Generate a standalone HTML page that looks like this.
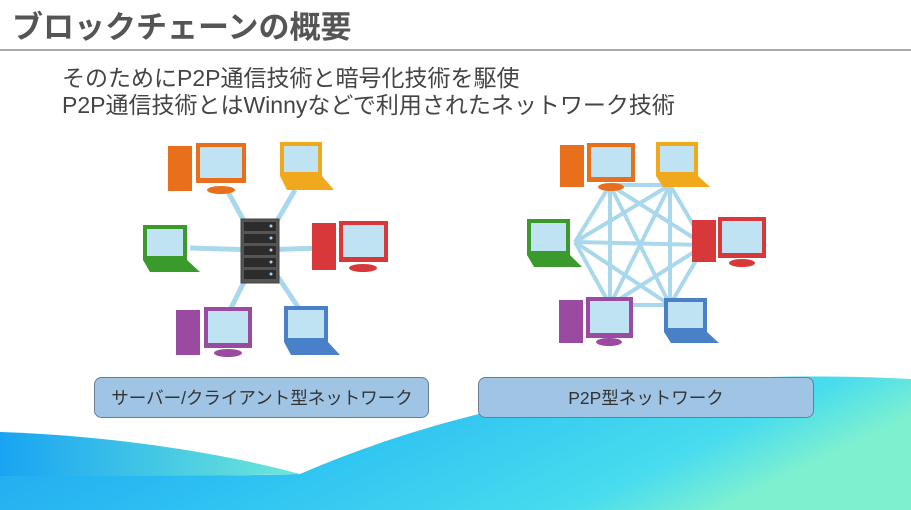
<!DOCTYPE html>
<html><head><meta charset="utf-8"><style>
html,body{margin:0;padding:0;width:911px;height:510px;overflow:hidden;background:#fff;font-family:"Liberation Sans","Noto Sans CJK JP",sans-serif}
</style></head><body>
<svg width="911" height="510" viewBox="0 0 911 510" xmlns="http://www.w3.org/2000/svg" font-family="Liberation Sans, Noto Sans CJK JP, sans-serif">
<defs>
<linearGradient id="w" x1="0" y1="0" x2="1" y2="0.3">
<stop offset="0" stop-color="#1a9ff0"/><stop offset="0.5" stop-color="#30c4f2"/><stop offset="0.85" stop-color="#48dcee"/><stop offset="1" stop-color="#7ef0d0"/></linearGradient>
<linearGradient id="w2" x1="0" y1="0" x2="1" y2="0">
<stop offset="0" stop-color="#18a4f2"/><stop offset="1" stop-color="#6ee8d8"/></linearGradient>
</defs>
<text x="12" y="38" font-size="31" font-weight="bold" fill="#555">ブロックチェーンの概要</text>
<rect x="0" y="49" width="911" height="2" fill="#aaa"/>
<text x="62" y="86" font-size="23" fill="#444">そのためにP2P通信技術と暗号化技術を駆使</text>
<text x="62" y="113" font-size="23" fill="#444">P2P通信技術とはWinnyなどで利用されたネットワーク技術</text>

<path d="M0,432 C120,436 230,455 300,474 L0,480 Z" fill="url(#w2)"/>
<path d="M0,476 C120,476 240,476 300,474 C420,422 540,396 650,384 C760,374 850,376 911,379 L911,510 L0,510 Z" fill="url(#w)"/>

<g stroke="#a9d8ec" stroke-width="5">
<line x1="260" y1="250" x2="228" y2="192"/><line x1="260" y1="250" x2="295" y2="190"/>
<line x1="260" y1="250" x2="190" y2="248"/><line x1="260" y1="250" x2="320" y2="248"/>
<line x1="260" y1="250" x2="230" y2="310"/><line x1="260" y1="250" x2="300" y2="310"/>
</g>
<g stroke="#a9d8ec" stroke-width="4">
<line x1="610" y1="185" x2="670" y2="185"/><line x1="610" y1="185" x2="705" y2="245"/><line x1="610" y1="185" x2="670" y2="305"/><line x1="610" y1="185" x2="610" y2="305"/><line x1="610" y1="185" x2="575" y2="242"/>
<line x1="670" y1="185" x2="705" y2="245"/><line x1="670" y1="185" x2="670" y2="305"/><line x1="670" y1="185" x2="610" y2="305"/><line x1="670" y1="185" x2="575" y2="242"/>
<line x1="705" y1="245" x2="670" y2="305"/><line x1="705" y1="245" x2="610" y2="305"/><line x1="705" y1="245" x2="575" y2="242"/>
<line x1="670" y1="305" x2="610" y2="305"/><line x1="670" y1="305" x2="575" y2="242"/>
<line x1="610" y1="305" x2="575" y2="242"/>
</g>

<rect x="241" y="219" width="38" height="64" fill="#555" stroke="#444"/>
<g fill="#2c2c2c"><rect x="244" y="222" width="32" height="9"/><rect x="244" y="234" width="32" height="9"/><rect x="244" y="246" width="32" height="9"/><rect x="244" y="258" width="32" height="9"/><rect x="244" y="270" width="32" height="9"/></g>
<g fill="#a9d0f0"><circle cx="271" cy="226" r="1.5"/><circle cx="271" cy="238" r="1.5"/><circle cx="271" cy="250" r="1.5"/><circle cx="271" cy="262" r="1.5"/><circle cx="271" cy="274" r="1.5"/></g>

<g>
<rect x="168" y="146" width="24" height="45" fill="#e8701c"/><rect x="196" y="143" width="50" height="40" fill="#e8701c"/><rect x="200" y="147" width="42" height="31" fill="#bfe3f3"/><ellipse cx="221" cy="190" rx="14" ry="4" fill="#e8701c"/>
<rect x="312" y="223" width="24" height="47" fill="#d8383a"/><rect x="339" y="221" width="49" height="41" fill="#d8383a"/><rect x="343" y="225" width="41" height="32" fill="#bfe3f3"/><ellipse cx="363" cy="268" rx="14" ry="4" fill="#d8383a"/>
<rect x="176" y="310" width="24" height="45" fill="#9a4aa0"/><rect x="204" y="307" width="48" height="41" fill="#9a4aa0"/><rect x="208" y="311" width="40" height="32" fill="#bfe3f3"/><ellipse cx="228" cy="353" rx="14" ry="4" fill="#9a4aa0"/>
</g>
<g>
<rect x="280" y="142" width="42" height="34" fill="#f0a81c"/><rect x="284" y="146" width="34" height="26" fill="#bfe3f3"/><polygon points="280,176 322,176 334,190 287,190" fill="#f0a81c"/>
<rect x="143" y="225" width="44" height="35" fill="#3a9a2c"/><rect x="147" y="229" width="36" height="27" fill="#bfe3f3"/><polygon points="143,260 187,260 200,272 150,272" fill="#3a9a2c"/>
<rect x="284" y="306" width="44" height="36" fill="#4a80c8"/><rect x="288" y="310" width="36" height="28" fill="#bfe3f3"/><polygon points="284,342 328,342 340,355 291,355" fill="#4a80c8"/>
</g>
<g>
<rect x="560" y="145" width="24" height="42" fill="#e8701c"/><rect x="587" y="143" width="48" height="39" fill="#e8701c"/><rect x="591" y="147" width="40" height="30" fill="#bfe3f3"/><ellipse cx="611" cy="187" rx="13" ry="4" fill="#e8701c"/>
<rect x="692" y="220" width="24" height="42" fill="#d8383a"/><rect x="718" y="217" width="48" height="41" fill="#d8383a"/><rect x="722" y="221" width="40" height="32" fill="#bfe3f3"/><ellipse cx="742" cy="263" rx="13" ry="4" fill="#d8383a"/>
<rect x="559" y="300" width="24" height="43" fill="#9a4aa0"/><rect x="586" y="297" width="47" height="41" fill="#9a4aa0"/><rect x="590" y="301" width="39" height="32" fill="#bfe3f3"/><ellipse cx="609" cy="342" rx="13" ry="4" fill="#9a4aa0"/>
</g>
<g>
<rect x="656" y="142" width="42" height="34" fill="#f0a81c"/><rect x="660" y="146" width="34" height="26" fill="#bfe3f3"/><polygon points="656,176 698,176 710,187 663,187" fill="#f0a81c"/>
<rect x="527" y="219" width="43" height="36" fill="#3a9a2c"/><rect x="531" y="223" width="35" height="28" fill="#bfe3f3"/><polygon points="527,255 570,255 582,267 534,267" fill="#3a9a2c"/>
<rect x="664" y="298" width="43" height="34" fill="#4a80c8"/><rect x="668" y="302" width="35" height="26" fill="#bfe3f3"/><polygon points="664,332 707,332 719,343 671,343" fill="#4a80c8"/>
</g>

<rect x="94.5" y="377.5" width="334" height="40" rx="7" fill="#9fc4e4" stroke="#6a7e90"/>
<text x="262" y="404" font-size="17.5" fill="#333" text-anchor="middle">サーバー/クライアント型ネットワーク</text>
<rect x="478.5" y="377.5" width="335" height="40" rx="7" fill="#9fc4e4" stroke="#6a7e90"/>
<text x="646" y="404" font-size="17.5" fill="#333" text-anchor="middle">P2P型ネットワーク</text>
</svg>
</body></html>
